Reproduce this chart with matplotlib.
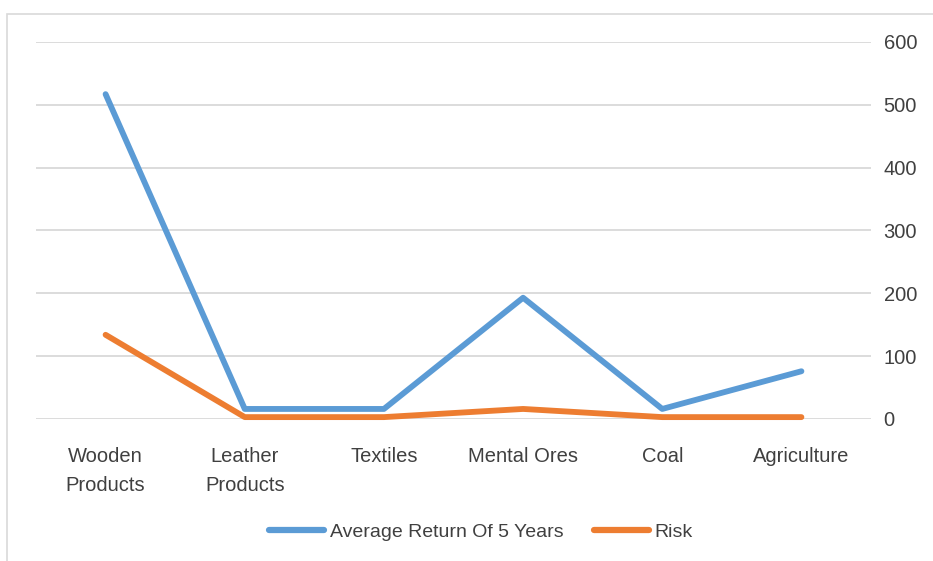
import matplotlib.pyplot as plt
from matplotlib.patches import Rectangle
from matplotlib.lines import Line2D

categories = ["Wooden\nProducts", "Leather\nProducts", "Textiles", "Mental Ores", "Coal", "Agriculture"]
avg_return = [517, 16, 16, 193, 16, 76]
risk = [134, 3, 3, 16, 3, 3]
y_ticks = [0, 100, 200, 300, 400, 500, 600]

plt.rcParams['font.family'] = ['Liberation Sans', 'DejaVu Sans']

fig = plt.figure(figsize=(9.33, 5.61), dpi=100)
W, H = 933, 561
ax = fig.add_axes([36 / W, 1 - 419 / H, (871 - 36) / W, (419 - 42) / H])

# chart frame
fig.patches.append(Rectangle((7 / W, -0.1), 1.2, 1 - 14 / H + 0.1, transform=fig.transFigure,
                             fill=False, edgecolor='#D9D9D9', linewidth=1.2))

x = list(range(len(categories)))
ax.plot(x, avg_return, color='#5B9BD5', lw=4.2, solid_capstyle='round', clip_on=False, zorder=3,
        label='Average Return Of 5 Years')
ax.plot(x, risk, color='#ED7D31', lw=4.2, solid_capstyle='round', clip_on=False, zorder=3,
        label='Risk')

ax.set_xlim(-0.5, len(categories) - 0.5)
ax.set_ylim(0, 600)
ax.set_yticks(y_ticks)
ax.yaxis.tick_right()
ax.tick_params(axis='y', length=0, pad=9, labelsize=14.5, labelcolor='#404040')
ax.set_xticks(x)
ax.set_xticklabels(categories, linespacing=1.65)
ax.tick_params(axis='x', length=0, pad=20, labelsize=14.5, labelcolor='#404040')
ax.grid(axis='y', color='#D9D9D9', lw=1.3)
ax.set_axisbelow(True)
for s in ax.spines.values():
    s.set_visible(False)

handles = [Line2D([], [], color='#5B9BD5', lw=4.5, solid_capstyle='round'),
           Line2D([], [], color='#ED7D31', lw=4.5, solid_capstyle='round')]
fig.legend(handles, ['Average Return Of 5 Years', 'Risk'], loc='center',
           bbox_to_anchor=(481 / W, 1 - 532 / H), ncol=2, frameon=False,
           fontsize=14, labelcolor='#404040', handlelength=2.8, handletextpad=0.3,
           columnspacing=1.6)

fig.savefig('out.png', dpi=100)
